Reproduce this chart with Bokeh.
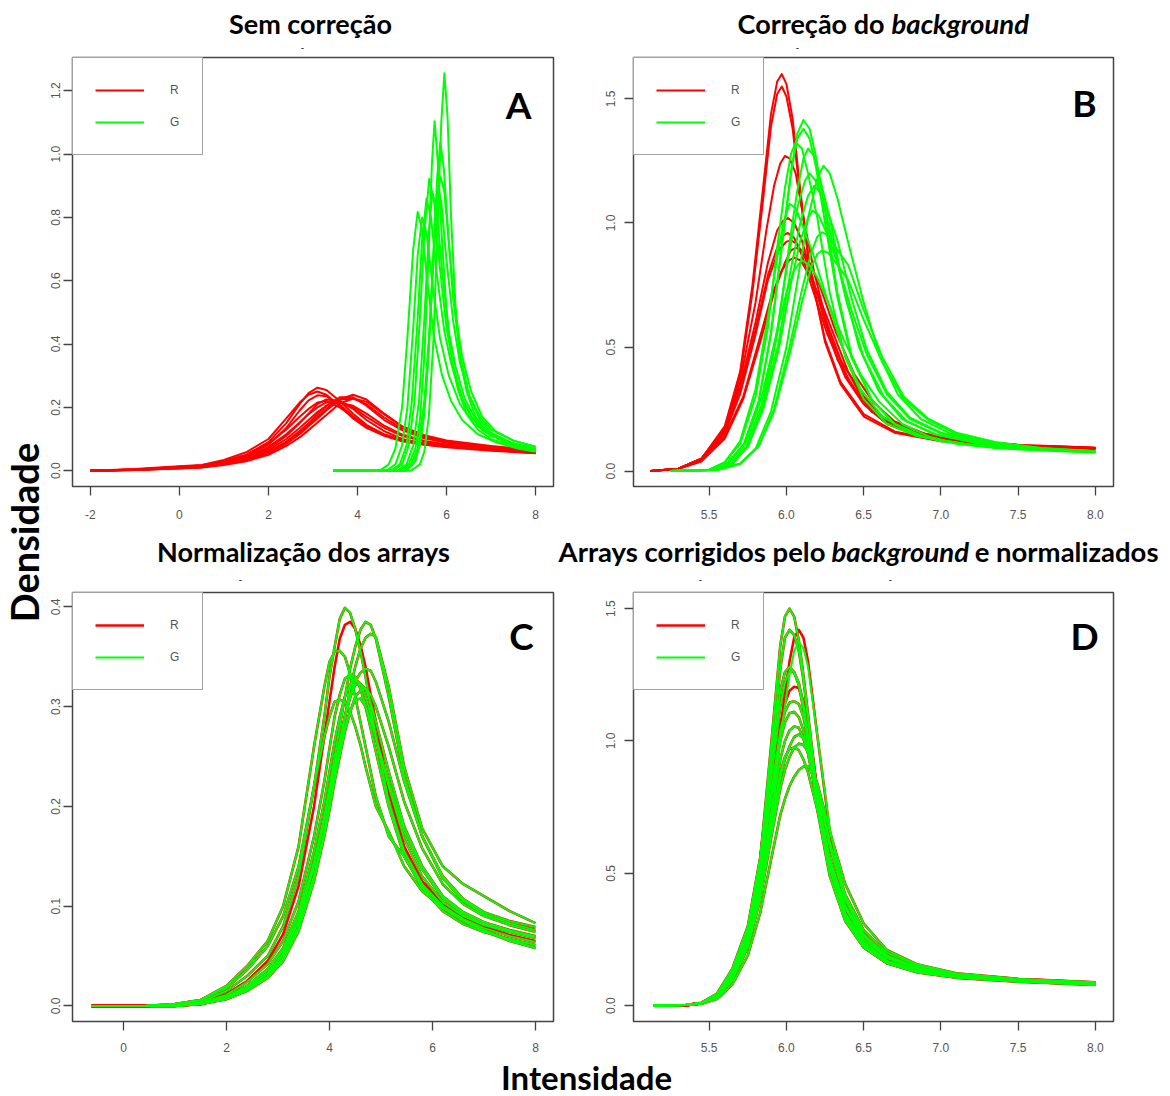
import math
from bokeh.plotting import figure
from bokeh.models import Label, Legend, LegendItem, FixedTicker, NumeralTickFormatter
from bokeh.layouts import row, column
from bokeh.core.properties import value
from bokeh.embed import file_html
from bokeh.resources import INLINE

# ---------------- DATA ----------------
# Panel A - "Sem correção"
a_red_x = [-2.0, -1.0, 0.0, 0.5, 1.0, 1.5, 2.0, 2.4, 2.7, 2.9, 3.1, 3.3, 3.6, 3.9, 4.2, 4.6, 5.0, 5.5, 6.0, 7.0, 8.0]
a_red_y = [
    [0, 0.004, 0.012, 0.016, 0.030, 0.050, 0.090, 0.150, 0.210, 0.245, 0.262, 0.255, 0.220, 0.180, 0.145, 0.115, 0.097, 0.085, 0.077, 0.066, 0.057],
    [0, 0.005, 0.014, 0.018, 0.034, 0.058, 0.100, 0.165, 0.215, 0.240, 0.250, 0.240, 0.205, 0.165, 0.135, 0.110, 0.093, 0.082, 0.074, 0.063, 0.055],
    [0, 0.003, 0.010, 0.013, 0.024, 0.040, 0.070, 0.110, 0.150, 0.180, 0.210, 0.225, 0.220, 0.195, 0.160, 0.125, 0.100, 0.086, 0.078, 0.067, 0.058],
    [0, 0.002, 0.008, 0.011, 0.020, 0.033, 0.055, 0.085, 0.115, 0.140, 0.165, 0.190, 0.225, 0.240, 0.225, 0.180, 0.140, 0.110, 0.092, 0.075, 0.062],
    [0, 0.003, 0.009, 0.012, 0.022, 0.036, 0.060, 0.092, 0.125, 0.150, 0.178, 0.205, 0.232, 0.232, 0.205, 0.160, 0.128, 0.102, 0.088, 0.072, 0.060],
    [0, 0.003, 0.010, 0.014, 0.026, 0.044, 0.075, 0.115, 0.152, 0.178, 0.200, 0.216, 0.218, 0.200, 0.170, 0.135, 0.110, 0.092, 0.082, 0.070, 0.060],
    [0, 0.004, 0.012, 0.016, 0.030, 0.050, 0.085, 0.130, 0.170, 0.195, 0.215, 0.220, 0.200, 0.170, 0.140, 0.112, 0.095, 0.083, 0.076, 0.065, 0.056],
    [0, 0.002, 0.007, 0.010, 0.018, 0.030, 0.050, 0.078, 0.105, 0.128, 0.152, 0.176, 0.212, 0.228, 0.218, 0.178, 0.140, 0.112, 0.095, 0.078, 0.064],
    [0, 0.004, 0.011, 0.015, 0.028, 0.047, 0.082, 0.135, 0.190, 0.222, 0.238, 0.235, 0.208, 0.172, 0.140, 0.113, 0.096, 0.084, 0.076, 0.065, 0.056],
    [0, 0.002, 0.008, 0.011, 0.020, 0.034, 0.057, 0.088, 0.120, 0.145, 0.170, 0.196, 0.225, 0.228, 0.210, 0.168, 0.133, 0.106, 0.090, 0.074, 0.061],
    [0, 0.003, 0.009, 0.012, 0.023, 0.038, 0.065, 0.100, 0.135, 0.160, 0.185, 0.205, 0.215, 0.205, 0.180, 0.142, 0.114, 0.094, 0.083, 0.070, 0.060],
]
a_green_x = [
    [3.45, 5.2, 5.4, 5.5, 5.6, 5.7, 5.8, 5.88, 5.95, 6.02, 6.1, 6.2, 6.3, 6.45, 6.65, 6.9, 7.3, 7.7, 8.0],
    [3.45, 4.95, 5.15, 5.3, 5.4, 5.5, 5.6, 5.67, 5.73, 5.8, 5.9, 6.0, 6.1, 6.25, 6.45, 6.7, 7.0, 7.5, 8.0],
    [3.45, 5.05, 5.25, 5.4, 5.5, 5.6, 5.7, 5.79, 5.86, 5.94, 6.05, 6.15, 6.3, 6.5, 6.75, 7.0, 7.5, 8.0],
    [3.45, 4.8, 5.0, 5.15, 5.28, 5.4, 5.5, 5.61, 5.72, 5.85, 6.0, 6.15, 6.35, 6.6, 6.9, 7.3, 7.7, 8.0],
    [3.45, 5.0, 5.2, 5.35, 5.5, 5.62, 5.72, 5.8, 5.86, 5.95, 6.05, 6.2, 6.35, 6.55, 6.8, 7.1, 7.5, 8.0],
    [3.45, 4.5, 4.7, 4.85, 5.0, 5.12, 5.25, 5.35, 5.45, 5.58, 5.72, 5.9, 6.1, 6.35, 6.7, 7.1, 7.6, 8.0],
    [3.45, 4.9, 5.1, 5.25, 5.38, 5.5, 5.6, 5.68, 5.78, 5.9, 6.05, 6.2, 6.4, 6.65, 6.95, 7.4, 8.0],
    [3.45, 4.75, 4.95, 5.1, 5.22, 5.35, 5.45, 5.55, 5.65, 5.78, 5.95, 6.1, 6.3, 6.55, 6.85, 7.3, 8.0],
    [3.45, 5.1, 5.3, 5.42, 5.55, 5.65, 5.73, 5.8, 5.88, 6.0, 6.15, 6.3, 6.5, 6.75, 7.0, 7.5, 8.0],
    [3.45, 4.65, 4.85, 5.0, 5.12, 5.25, 5.35, 5.45, 5.55, 5.7, 5.85, 6.05, 6.3, 6.6, 7.0, 7.5, 8.0],
]
a_green_y = [
    [0, 0, 0.02, 0.06, 0.17, 0.40, 0.78, 1.10, 1.255, 1.12, 0.80, 0.52, 0.36, 0.25, 0.17, 0.125, 0.09, 0.072, 0.062],
    [0, 0, 0.02, 0.07, 0.16, 0.36, 0.70, 0.97, 1.104, 0.98, 0.72, 0.50, 0.37, 0.26, 0.18, 0.13, 0.10, 0.075, 0.062],
    [0, 0, 0.02, 0.08, 0.18, 0.38, 0.68, 0.93, 1.037, 0.95, 0.72, 0.54, 0.37, 0.24, 0.16, 0.12, 0.085, 0.068],
    [0, 0, 0.02, 0.08, 0.22, 0.48, 0.75, 0.922, 0.85, 0.64, 0.45, 0.33, 0.23, 0.16, 0.12, 0.09, 0.075, 0.066],
    [0, 0, 0.02, 0.07, 0.22, 0.45, 0.70, 0.87, 0.93, 0.88, 0.72, 0.50, 0.36, 0.25, 0.17, 0.125, 0.095, 0.075],
    [0, 0, 0.02, 0.07, 0.20, 0.42, 0.70, 0.817, 0.76, 0.58, 0.42, 0.30, 0.22, 0.16, 0.115, 0.09, 0.07, 0.06],
    [0, 0, 0.02, 0.08, 0.22, 0.48, 0.75, 0.88, 0.82, 0.63, 0.44, 0.33, 0.23, 0.16, 0.12, 0.09, 0.068],
    [0, 0, 0.02, 0.08, 0.22, 0.48, 0.73, 0.86, 0.80, 0.62, 0.44, 0.34, 0.24, 0.17, 0.125, 0.092, 0.07],
    [0, 0, 0.03, 0.10, 0.28, 0.52, 0.75, 0.90, 0.85, 0.66, 0.47, 0.34, 0.24, 0.17, 0.13, 0.095, 0.076],
    [0, 0, 0.02, 0.08, 0.20, 0.45, 0.68, 0.80, 0.75, 0.57, 0.42, 0.30, 0.21, 0.15, 0.11, 0.085, 0.065],
]

# Panel B - "Correção do background"
b_red_x = [
    [5.12, 5.3, 5.45, 5.6, 5.7, 5.78, 5.85, 5.9, 5.94, 5.97, 6.0, 6.04, 6.09, 6.15, 6.25, 6.35, 6.5, 6.7, 7.0, 7.5, 8.0],
    [5.12, 5.3, 5.45, 5.6, 5.7, 5.78, 5.85, 5.9, 5.94, 5.97, 6.0, 6.04, 6.09, 6.15, 6.25, 6.35, 6.5, 6.7, 7.0, 7.5, 8.0],
    [5.12, 5.3, 5.45, 5.6, 5.7, 5.8, 5.87, 5.92, 5.96, 5.99, 6.02, 6.06, 6.11, 6.18, 6.28, 6.4, 6.55, 6.75, 7.0, 7.5, 8.0],
    [5.12, 5.3, 5.45, 5.6, 5.7, 5.8, 5.88, 5.94, 5.98, 6.01, 6.05, 6.1, 6.16, 6.24, 6.33, 6.45, 6.6, 6.8, 7.1, 7.5, 8.0],
    [5.12, 5.3, 5.45, 5.6, 5.7, 5.8, 5.88, 5.95, 6.0, 6.03, 6.07, 6.12, 6.18, 6.26, 6.35, 6.47, 6.62, 6.82, 7.1, 7.5, 8.0],
    [5.12, 5.3, 5.45, 5.6, 5.72, 5.82, 5.9, 5.97, 6.02, 6.05, 6.09, 6.14, 6.2, 6.3, 6.4, 6.52, 6.65, 6.85, 7.1, 7.5, 8.0],
    [5.12, 5.3, 5.45, 5.6, 5.7, 5.8, 5.88, 5.94, 5.98, 6.01, 6.05, 6.1, 6.16, 6.26, 6.38, 6.5, 6.65, 6.85, 7.1, 7.5, 8.0],
    [5.12, 5.3, 5.45, 5.6, 5.72, 5.83, 5.92, 5.99, 6.03, 6.06, 6.1, 6.15, 6.22, 6.32, 6.44, 6.56, 6.7, 6.9, 7.15, 7.5, 8.0],
]
b_red_y = [
    [0, 0.01, 0.05, 0.18, 0.40, 0.75, 1.15, 1.44, 1.57, 1.60, 1.56, 1.42, 1.13, 0.82, 0.52, 0.35, 0.22, 0.155, 0.12, 0.10, 0.09],
    [0, 0.01, 0.05, 0.17, 0.38, 0.72, 1.10, 1.39, 1.52, 1.55, 1.51, 1.38, 1.11, 0.82, 0.53, 0.36, 0.23, 0.16, 0.122, 0.102, 0.092],
    [0, 0.01, 0.05, 0.17, 0.36, 0.68, 0.97, 1.15, 1.24, 1.27, 1.26, 1.20, 1.02, 0.80, 0.55, 0.37, 0.24, 0.17, 0.13, 0.105, 0.094],
    [0, 0.01, 0.05, 0.17, 0.34, 0.60, 0.84, 0.97, 1.01, 1.02, 1.00, 0.93, 0.80, 0.62, 0.45, 0.32, 0.22, 0.16, 0.125, 0.105, 0.093],
    [0, 0.01, 0.045, 0.15, 0.31, 0.55, 0.77, 0.89, 0.925, 0.93, 0.915, 0.86, 0.75, 0.60, 0.45, 0.32, 0.22, 0.16, 0.127, 0.106, 0.094],
    [0, 0.01, 0.04, 0.14, 0.30, 0.52, 0.70, 0.81, 0.85, 0.86, 0.85, 0.80, 0.72, 0.56, 0.40, 0.28, 0.20, 0.15, 0.12, 0.10, 0.09],
    [0, 0.01, 0.05, 0.16, 0.33, 0.57, 0.79, 0.90, 0.95, 0.96, 0.94, 0.87, 0.75, 0.56, 0.38, 0.27, 0.19, 0.145, 0.118, 0.10, 0.09],
    [0, 0.008, 0.04, 0.13, 0.29, 0.52, 0.72, 0.84, 0.89, 0.90, 0.89, 0.84, 0.74, 0.56, 0.39, 0.28, 0.20, 0.15, 0.12, 0.103, 0.092],
]
b_green_x = [
    [5.25, 5.5, 5.62, 5.72, 5.82, 5.9, 5.98, 6.03, 6.07, 6.11, 6.15, 6.19, 6.25, 6.33, 6.42, 6.55, 6.7, 6.9, 7.2, 7.6, 8.0],
    [5.25, 5.5, 5.62, 5.72, 5.82, 5.9, 5.98, 6.03, 6.07, 6.11, 6.15, 6.19, 6.25, 6.33, 6.42, 6.55, 6.7, 6.9, 7.2, 7.6, 8.0],
    [5.25, 5.5, 5.6, 5.7, 5.8, 5.88, 5.94, 5.99, 6.03, 6.06, 6.1, 6.14, 6.2, 6.28, 6.38, 6.5, 6.65, 6.85, 7.2, 7.6, 8.0],
    [5.25, 5.5, 5.65, 5.75, 5.85, 5.94, 6.02, 6.07, 6.11, 6.14, 6.18, 6.22, 6.28, 6.37, 6.47, 6.6, 6.75, 6.95, 7.25, 7.6, 8.0],
    [5.25, 5.55, 5.7, 5.8, 5.9, 6.0, 6.08, 6.14, 6.2, 6.24, 6.28, 6.33, 6.4, 6.5, 6.6, 6.72, 6.87, 7.05, 7.3, 7.65, 8.0],
    [5.25, 5.5, 5.65, 5.75, 5.85, 5.95, 6.03, 6.09, 6.14, 6.18, 6.22, 6.27, 6.33, 6.42, 6.52, 6.65, 6.8, 7.0, 7.3, 7.65, 8.0],
    [5.25, 5.5, 5.6, 5.7, 5.8, 5.88, 5.94, 5.98, 6.02, 6.06, 6.11, 6.17, 6.26, 6.36, 6.48, 6.62, 6.8, 7.0, 7.3, 7.65, 8.0],
    [5.25, 5.55, 5.7, 5.82, 5.92, 6.02, 6.1, 6.16, 6.2, 6.23, 6.27, 6.32, 6.4, 6.5, 6.62, 6.76, 6.92, 7.1, 7.35, 7.65, 8.0],
    [5.25, 5.55, 5.7, 5.82, 5.92, 6.02, 6.1, 6.16, 6.2, 6.23, 6.27, 6.32, 6.4, 6.5, 6.62, 6.76, 6.92, 7.1, 7.35, 7.65, 8.0],
    [5.25, 5.5, 5.62, 5.74, 5.84, 5.93, 6.0, 6.05, 6.1, 6.15, 6.2, 6.27, 6.37, 6.48, 6.6, 6.75, 6.92, 7.1, 7.35, 7.65, 8.0],
    [5.25, 5.5, 5.64, 5.74, 5.84, 5.93, 6.01, 6.07, 6.12, 6.15, 6.19, 6.24, 6.3, 6.39, 6.5, 6.63, 6.78, 6.98, 7.3, 7.65, 8.0],
    [5.25, 5.5, 5.65, 5.75, 5.85, 5.95, 6.03, 6.09, 6.14, 6.17, 6.21, 6.26, 6.33, 6.42, 6.52, 6.65, 6.8, 7.0, 7.3, 7.65, 8.0],
]
b_green_y = [
    [0, 0.005, 0.03, 0.10, 0.28, 0.55, 0.95, 1.20, 1.36, 1.415, 1.38, 1.27, 1.05, 0.72, 0.47, 0.29, 0.19, 0.135, 0.105, 0.088, 0.078],
    [0, 0.005, 0.03, 0.10, 0.28, 0.56, 0.96, 1.21, 1.34, 1.38, 1.34, 1.23, 1.00, 0.70, 0.46, 0.29, 0.19, 0.135, 0.105, 0.088, 0.078],
    [0, 0.006, 0.035, 0.11, 0.30, 0.58, 0.90, 1.14, 1.28, 1.325, 1.30, 1.20, 1.02, 0.72, 0.46, 0.29, 0.19, 0.14, 0.105, 0.088, 0.078],
    [0, 0.004, 0.03, 0.10, 0.27, 0.55, 0.92, 1.13, 1.26, 1.30, 1.27, 1.17, 1.02, 0.74, 0.50, 0.32, 0.21, 0.15, 0.11, 0.09, 0.079],
    [0, 0.004, 0.03, 0.09, 0.24, 0.50, 0.80, 1.02, 1.18, 1.231, 1.20, 1.10, 0.92, 0.68, 0.47, 0.31, 0.21, 0.155, 0.115, 0.092, 0.08],
    [0, 0.004, 0.03, 0.10, 0.26, 0.52, 0.82, 1.00, 1.11, 1.15, 1.12, 1.04, 0.93, 0.70, 0.49, 0.32, 0.215, 0.155, 0.113, 0.09, 0.078],
    [0, 0.006, 0.035, 0.12, 0.33, 0.62, 0.86, 1.00, 1.077, 1.06, 0.98, 0.88, 0.70, 0.50, 0.33, 0.22, 0.155, 0.12, 0.098, 0.085, 0.076],
    [0, 0.004, 0.03, 0.10, 0.25, 0.50, 0.73, 0.88, 0.945, 0.963, 0.95, 0.90, 0.83, 0.65, 0.46, 0.30, 0.21, 0.155, 0.117, 0.093, 0.08],
    [0, 0.004, 0.03, 0.10, 0.24, 0.47, 0.68, 0.82, 0.875, 0.889, 0.88, 0.84, 0.77, 0.61, 0.44, 0.29, 0.205, 0.15, 0.113, 0.09, 0.078],
    [0, 0.006, 0.035, 0.12, 0.30, 0.54, 0.72, 0.81, 0.85, 0.83, 0.78, 0.68, 0.53, 0.39, 0.28, 0.19, 0.14, 0.11, 0.093, 0.083, 0.075],
    [0, 0.005, 0.03, 0.10, 0.27, 0.53, 0.85, 1.06, 1.17, 1.20, 1.17, 1.08, 0.92, 0.68, 0.46, 0.30, 0.20, 0.145, 0.108, 0.088, 0.077],
    [0, 0.004, 0.03, 0.10, 0.25, 0.49, 0.76, 0.93, 1.02, 1.05, 1.03, 0.96, 0.84, 0.65, 0.47, 0.31, 0.21, 0.152, 0.112, 0.09, 0.078],
]

# Panel C - "Normalização dos arrays" (R and G densities nearly coincide)
c_x = [-0.62, 0.4, 1.0, 1.5, 2.0, 2.4, 2.8, 3.1, 3.4, 3.7, 3.9, 4.0, 4.1, 4.2, 4.3, 4.4, 4.5, 4.6, 4.7, 4.8, 4.9,
       5.15, 5.45, 5.8, 6.2, 6.6, 7.0, 7.5, 8.0]
c_y = [
    [0, 0, .001, .004, .015, .030, .050, .080, .130, .220, .290, .330, .360, .388, .399, .394, .378, .356, .330, .300, .270, .205, .155, .122, .100, .087, .078, .070, .064],
    [0, 0, .001, .003, .012, .025, .045, .072, .120, .200, .270, .305, .340, .368, .382, .385, .378, .362, .340, .312, .285, .215, .160, .125, .102, .088, .079, .071, .065],
    [0, 0, 0, .002, .008, .018, .033, .052, .085, .140, .190, .220, .250, .280, .310, .338, .360, .377, .385, .382, .368, .310, .230, .170, .128, .105, .092, .083, .076],
    [0, 0, 0, .002, .007, .016, .030, .048, .078, .130, .175, .200, .230, .260, .290, .318, .340, .358, .369, .373, .370, .320, .240, .178, .140, .122, .110, .095, .083],
    [0, 0, .002, .006, .020, .040, .065, .100, .160, .260, .320, .345, .355, .356, .350, .333, .310, .285, .260, .235, .210, .170, .150, .120, .100, .086, .076, .066, .058],
    [0, 0, 0, .002, .009, .020, .036, .056, .090, .145, .190, .214, .240, .265, .290, .310, .325, .334, .338, .336, .325, .285, .225, .170, .130, .107, .094, .085, .079],
    [0, 0, .001, .003, .011, .024, .042, .065, .105, .170, .225, .258, .290, .312, .328, .332, .330, .318, .300, .278, .255, .200, .150, .118, .095, .082, .074, .067, .061],
    [0, 0, .001, .002, .008, .018, .033, .052, .085, .140, .185, .212, .240, .266, .290, .309, .322, .323, .318, .304, .285, .235, .180, .140, .110, .094, .084, .076, .070],
    [0, 0, .002, .006, .018, .036, .060, .090, .140, .220, .270, .290, .305, .307, .305, .295, .280, .262, .240, .220, .200, .175, .140, .115, .098, .085, .075, .065, .058],
    [0, 0, 0, .002, .007, .015, .028, .045, .075, .125, .170, .196, .225, .250, .275, .294, .310, .316, .318, .312, .300, .260, .205, .158, .122, .102, .090, .081, .074],
    [0, 0, .001, .003, .009, .020, .037, .058, .095, .155, .205, .235, .265, .290, .310, .322, .328, .323, .310, .292, .270, .220, .168, .130, .104, .090, .081, .074, .068],
    [0, 0, .001, .002, .007, .016, .030, .048, .080, .130, .175, .202, .230, .256, .280, .296, .307, .308, .300, .286, .268, .225, .175, .137, .108, .092, .082, .075, .069],
]
c_red_idx = [0, 1, 2, 3, 4, 5, 6, 7, 8, 9, 10, 11]
c_green_idx = [0, 2, 3, 4, 5, 6, 7, 8, 9, 10, 11]

# Panel D - "Arrays corrigidos pelo background e normalizados"
d_x = [5.14, 5.35, 5.45, 5.55, 5.65, 5.75, 5.83, 5.9, 5.96, 5.99, 6.02, 6.05, 6.08, 6.11, 6.14, 6.2, 6.28, 6.38,
       6.5, 6.65, 6.85, 7.1, 7.5, 8.0]
d_y = [
    [0, .002, .010, .040, .130, .280, .550, .980, 1.360, 1.470, 1.500, 1.470, 1.380, 1.250, 1.100, .800, .520, .330, .220, .160, .125, .105, .090, .078],
    [0, .002, .010, .040, .130, .290, .550, .920, 1.270, 1.390, 1.420, 1.400, 1.340, 1.230, 1.080, .800, .530, .340, .225, .165, .128, .107, .092, .080],
    [0, .002, .008, .030, .100, .240, .450, .740, 1.040, 1.180, 1.300, 1.390, 1.420, 1.390, 1.300, 1.020, .660, .400, .260, .180, .135, .110, .094, .082],
    [0, .002, .008, .030, .100, .240, .440, .720, 1.000, 1.130, 1.250, 1.340, 1.375, 1.350, 1.280, 1.020, .670, .410, .265, .185, .138, .112, .095, .083],
    [0, .002, .010, .040, .120, .280, .520, .850, 1.130, 1.220, 1.265, 1.260, 1.220, 1.140, 1.020, .780, .520, .340, .230, .165, .130, .108, .092, .080],
    [0, .002, .010, .040, .120, .270, .500, .800, 1.060, 1.140, 1.190, 1.205, 1.200, 1.150, 1.060, .820, .550, .350, .235, .170, .130, .108, .092, .080],
    [0, .002, .010, .040, .120, .270, .490, .780, 1.000, 1.070, 1.105, 1.110, 1.090, 1.040, .960, .770, .530, .350, .240, .170, .133, .110, .094, .082],
    [0, .002, .009, .035, .110, .250, .460, .720, .930, 1.000, 1.040, 1.055, 1.050, 1.010, .950, .780, .560, .370, .250, .180, .138, .113, .096, .083],
    [0, .002, .008, .030, .100, .230, .420, .660, .860, .930, .980, 1.015, 1.025, 1.010, .970, .820, .600, .400, .270, .190, .143, .116, .098, .085],
    [0, .002, .009, .035, .110, .250, .450, .690, .880, .940, .970, .975, .965, .930, .880, .740, .550, .380, .260, .185, .140, .114, .097, .084],
    [0, .002, .007, .025, .080, .190, .350, .550, .720, .780, .830, .865, .890, .903, .905, .840, .660, .460, .310, .210, .155, .122, .101, .088],
    [0, .002, .010, .040, .120, .270, .500, .800, 1.040, 1.110, 1.145, 1.150, 1.140, 1.090, 1.000, .790, .540, .350, .235, .168, .130, .108, .093, .081],
    [0, .002, .011, .045, .140, .300, .560, .900, 1.190, 1.260, 1.280, 1.260, 1.210, 1.120, .990, .740, .490, .320, .220, .160, .126, .106, .091, .079],
    [0, .002, .008, .030, .095, .220, .400, .630, .820, .890, .940, .975, .990, .985, .960, .830, .620, .420, .285, .200, .150, .120, .100, .087],
]
d_red_idx = [0, 1, 2, 4, 5, 6, 7, 8, 9, 10, 11, 12, 13]
d_green_idx = [0, 1, 3, 4, 6, 7, 8, 9, 10, 11, 12, 13]

a_xticks = [-2, 0, 2, 4, 6, 8]
a_yticks = [0.0, 0.2, 0.4, 0.6, 0.8, 1.0, 1.2]
b_xticks = [5.5, 6.0, 6.5, 7.0, 7.5, 8.0]
b_yticks = [0.0, 0.5, 1.0, 1.5]
c_xticks = [0, 2, 4, 6, 8]
c_yticks = [0.0, 0.1, 0.2, 0.3, 0.4]
d_xticks = [5.5, 6.0, 6.5, 7.0, 7.5, 8.0]
d_yticks = [0.0, 0.5, 1.0, 1.5]

titles_top = ["Sem correção", "Correção do", "background"]
titles_mid = ["Normalização dos arrays", "Arrays corrigidos pelo", "background", "e normalizados"]
ylabel = "Densidade"
xlabel = "Intensidade"

# ---------------- LAYOUT ----------------
RED = "#FF0000"
GREEN = "#00FF00"
FRAME = "#444444"
TICKTXT = "#555555"
TITLE_FONT = "Lato"

LEFT_W = 46
TOP_H = 52
MID_TOP = 532
MID_H = 53
BOT_H = 40

FIGS = {
    "A": dict(left=46, top=52, w=539, h=480, bl=26, br=32, bt=5, bb=46, xr=(-2.4, 8.4), yr=(-0.05, 1.305),
              xt=a_xticks, yt=a_yticks, xf="0", yf="0.0", xs=14, ys=3),
    "B": dict(left=585, top=52, w=585, h=480, bl=48, br=57, bt=5, bb=46, xr=(5.01, 8.117), yr=(-0.062, 1.667),
              xt=b_xticks, yt=b_yticks, xf="0.0", yf="0.0", xs=14, ys=9),
    "C": dict(left=46, top=585, w=539, h=471, bl=26, br=32, bt=7, bb=35, xr=(-0.99, 8.35), yr=(-0.0156, 0.4144),
              xt=c_xticks, yt=c_yticks, xf="0", yf="0.0", xs=12, ys=3),
    "D": dict(left=585, top=585, w=585, h=471, bl=48, br=57, bt=7, bb=35, xr=(5.01, 8.117), yr=(-0.06, 1.561),
              xt=d_xticks, yt=d_yticks, xf="0.0", yf="0.0", xs=12, ys=9),
}

plots = {}
for k, f in FIGS.items():
    p = figure(width=f["w"], height=f["h"], x_range=f["xr"], y_range=f["yr"], title=None,
               output_backend="svg", toolbar_location=None,
               min_border_left=f["bl"], min_border_right=f["br"],
               min_border_top=f["bt"], min_border_bottom=f["bb"])
    p.grid.visible = False
    p.background_fill_color = "white"
    p.border_fill_color = "white"
    p.outline_line_color = FRAME
    p.outline_line_width = 1.5
    for ax in (p.xaxis[0], p.yaxis[0]):
        ax.axis_line_color = None
        ax.major_tick_line_color = FRAME
        ax.major_tick_line_width = 1.3
        ax.major_tick_out = 9
        ax.major_tick_in = 0
        ax.minor_tick_line_color = None
        ax.major_label_text_font = "Liberation Sans"
        ax.major_label_text_font_size = "12px"
        ax.major_label_text_color = TICKTXT
    p.xaxis[0].ticker = FixedTicker(ticks=f["xt"])
    p.yaxis[0].ticker = FixedTicker(ticks=f["yt"])
    p.xaxis[0].formatter = NumeralTickFormatter(format=f["xf"])
    p.yaxis[0].formatter = NumeralTickFormatter(format=f["yf"])
    p.xaxis[0].major_label_standoff = f["xs"]
    p.yaxis[0].major_label_standoff = f["ys"]
    p.yaxis[0].major_label_orientation = "vertical"
    plots[k] = p

LW = 2.0


def draw(k, red_xs, red_ys, green_xs, green_ys, red_w=LW, green_w=LW):
    p = plots[k]
    rr = p.multi_line(xs=red_xs, ys=red_ys, line_color=RED, line_width=red_w, line_join="round")
    rg = p.multi_line(xs=green_xs, ys=green_ys, line_color=GREEN, line_width=green_w, line_join="round")
    leg = Legend(items=[LegendItem(label="R", renderers=[rr]), LegendItem(label="G", renderers=[rg])],
                 location="top_left", margin=0, padding=22, spacing=12,
                 glyph_width=49, glyph_height=20, label_height=20, label_width=10, label_standoff=26,
                 border_line_color=FRAME, border_line_width=1.5,
                 background_fill_color="white", background_fill_alpha=1.0,
                 label_text_font="Liberation Sans", label_text_font_size="12px",
                 label_text_color=TICKTXT)
    p.add_layout(leg)


draw("A", [a_red_x] * len(a_red_y), a_red_y, a_green_x, a_green_y)
draw("B", b_red_x, b_red_y, b_green_x, b_green_y)
draw("C", [c_x] * len(c_red_idx), [c_y[i] for i in c_red_idx],
     [c_x] * len(c_green_idx), [c_y[i] for i in c_green_idx], red_w=2.6, green_w=2.0)
draw("D", [d_x] * len(d_red_idx), [d_y[i] for i in d_red_idx],
     [d_x] * len(d_green_idx), [d_y[i] for i in d_green_idx], red_w=2.6, green_w=2.0)


def panel_letter(k, X, Y, text, size=37):
    f = FIGS[k]
    x0, x1 = f["xr"]
    y0, y1 = f["yr"]
    fw = f["w"] - f["bl"] - f["br"]
    fh = f["h"] - f["bt"] - f["bb"]
    xd = x0 + (X - f["left"] - f["bl"]) / fw * (x1 - x0)
    yd = y1 - (Y - f["top"] - f["bt"]) / fh * (y1 - y0)
    plots[k].add_layout(Label(x=xd, y=yd, text=text, text_font=TITLE_FONT, text_font_size=f"{size}px",
                              text_font_style="bold", text_align="center", text_baseline="middle",
                              text_color="black"))


panel_letter("A", 518, 104, "A")
panel_letter("B", 1084, 102, "B")
panel_letter("C", 521, 635, "C")
panel_letter("D", 1084, 635, "D")


# text strips (plain figures whose frame fills the canvas)
def strip(w, h):
    s = figure(width=w, height=h, x_range=(0, w), y_range=(0, h), title=None,
               output_backend="svg", toolbar_location=None, x_axis_type=None, y_axis_type=None,
               min_border_left=0, min_border_right=0, min_border_top=0, min_border_bottom=0)
    s.grid.visible = False
    s.outline_line_color = None
    s.background_fill_color = "white"
    s.border_fill_color = "white"
    return s


def stext(s, h, X, Y, text, size, style="bold", align="center", angle=0.0,
          color="black", font=TITLE_FONT):
    s.text(x=[X], y=[h - Y], text=[text], text_font=value(font), text_font_size=value(f"{size}px"),
           text_font_style=style, text_align=align, text_baseline="middle", angle=angle,
           text_color=color)


RW = 1170 - LEFT_W
top = strip(RW, TOP_H)
stext(top, TOP_H, 310 - LEFT_W, 23, titles_top[0], 27)
stext(top, TOP_H, 884 - LEFT_W, 23, titles_top[1], 27, align="right")
stext(top, TOP_H, 891 - LEFT_W, 23, titles_top[2], 27.5, style="bold italic", align="left")
for X in (302, 797):
    stext(top, TOP_H, X - LEFT_W, 46, "-", 10, style="normal", color="#333333", font="Liberation Sans")

mid = strip(RW, MID_H)
stext(mid, MID_H, 303 - LEFT_W, 551 - MID_TOP, titles_mid[0], 27)
stext(mid, MID_H, 825 - LEFT_W, 551 - MID_TOP, titles_mid[1], 27.5, align="right")
stext(mid, MID_H, 831 - LEFT_W, 551 - MID_TOP, titles_mid[2], 27.5, style="bold italic", align="left")
stext(mid, MID_H, 1158 - LEFT_W, 551 - MID_TOP, titles_mid[3], 27.5, align="right")
for X in (240, 700, 890):
    stext(mid, MID_H, X - LEFT_W, 578 - MID_TOP, "-", 10, style="normal", color="#333333",
          font="Liberation Sans")

bot = strip(RW, BOT_H)
stext(bot, BOT_H, 586 - LEFT_W, 20, xlabel, 33)

left = strip(LEFT_W, 1096)
stext(left, 1096, 23, 532, ylabel, 38, angle=math.pi / 2)

layout = row(left, column(top, row(plots["A"], plots["B"]), mid, row(plots["C"], plots["D"]), bot))

open("out.html", "w").write(file_html(layout, INLINE))
